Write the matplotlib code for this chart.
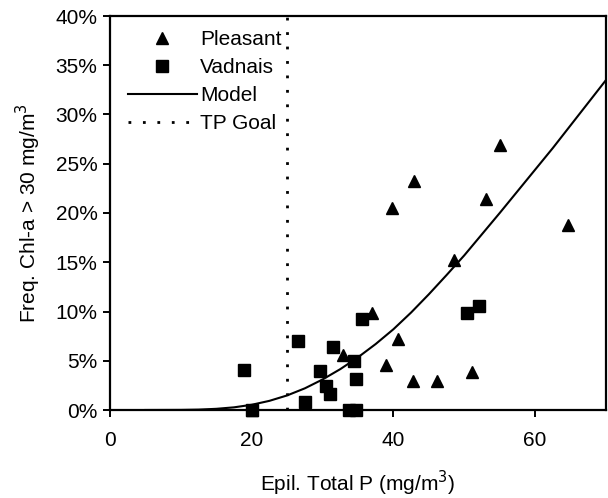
import matplotlib
matplotlib.use("Agg")
import matplotlib.pyplot as plt
from matplotlib.ticker import FuncFormatter

plt.rcParams['font.family'] = ['Liberation Sans', 'DejaVu Sans']

# Data
pleasant_x = [55.0, 42.9, 39.8, 53.1, 64.7, 48.5, 37.0, 40.7, 32.9, 39.0, 51.1, 42.7, 46.1, 20.0]
pleasant_y = [26.9, 23.2, 20.5, 21.4, 18.75, 15.2, 9.8, 7.2, 5.6, 4.6, 3.9, 2.9, 2.9, 0.0]

vadnais_x = [18.9, 26.6, 27.5, 29.6, 31.5, 30.5, 31.1, 34.5, 34.7, 35.6, 50.4, 52.1, 33.7, 34.7, 20.0]
vadnais_y = [4.06, 7.0, 0.85, 4.0, 6.4, 2.45, 1.6, 5.0, 3.15, 9.2, 9.8, 10.6, 0.0, 0.0, 0.0]

model_x = [5, 10, 12.5, 15, 17.5, 20, 22.5, 25, 27.5, 30, 32.5, 35, 37.5, 40, 42.5,
           45, 47.5, 50, 52.5, 55, 57.5, 60, 62.5, 65, 67.5, 70]
model_y = [0.0, 0.01, 0.04, 0.12, 0.27, 0.53, 0.93, 1.48, 2.2, 3.1, 4.15, 5.35, 6.7, 8.2, 9.9,
           11.75, 13.7, 15.7, 17.85, 20.0, 22.2, 24.4, 26.6, 28.9, 31.2, 33.5]

tp_goal = 25

xticks = [0, 20, 40, 60]
yticks = [0, 5, 10, 15, 20, 25, 30, 35, 40]

FS = 15

fig = plt.figure(figsize=(6.08, 4.98), dpi=100)
ax = fig.add_axes([110/608, 88/498, 496/608, 394/498])

ax.plot(pleasant_x, pleasant_y, linestyle='none', marker='^', markersize=8.5,
        color='black', label='Pleasant', clip_on=False, zorder=3)
ax.plot(vadnais_x, vadnais_y, linestyle='none', marker='s', markersize=8.3,
        color='black', label='Vadnais', clip_on=False, zorder=3)
ax.plot(model_x, model_y, color='black', linewidth=1.5, label='Model', zorder=2)
ax.axvline(tp_goal, color='black', linewidth=2.0, linestyle=(0, (1.0, 4.2)), label='TP Goal')

ax.set_xlim(0, 70)
ax.set_ylim(0, 40)
ax.set_xticks(xticks)
ax.set_yticks(yticks)
ax.yaxis.set_major_formatter(FuncFormatter(lambda v, p: f"{int(v)}%"))

for s in ax.spines.values():
    s.set_linewidth(1.6)
ax.tick_params(axis='both', direction='out', length=5, width=1.4, labelsize=FS, pad=4)
ax.tick_params(axis='x', pad=10)

ax.set_xlabel('Epil. Total P (mg/m$^3$)', fontsize=FS, labelpad=14)
ax.set_ylabel('Freq. Chl-a > 30 mg/m$^3$', fontsize=FS, labelpad=9)

leg = ax.legend(loc='upper left', frameon=False, fontsize=FS, handlelength=3.3,
                handletextpad=0.15, labelspacing=0.43, borderaxespad=0.0,
                borderpad=0.0, bbox_to_anchor=(18/496, 1 - 14/394))

fig.savefig('out.png', dpi=100)
